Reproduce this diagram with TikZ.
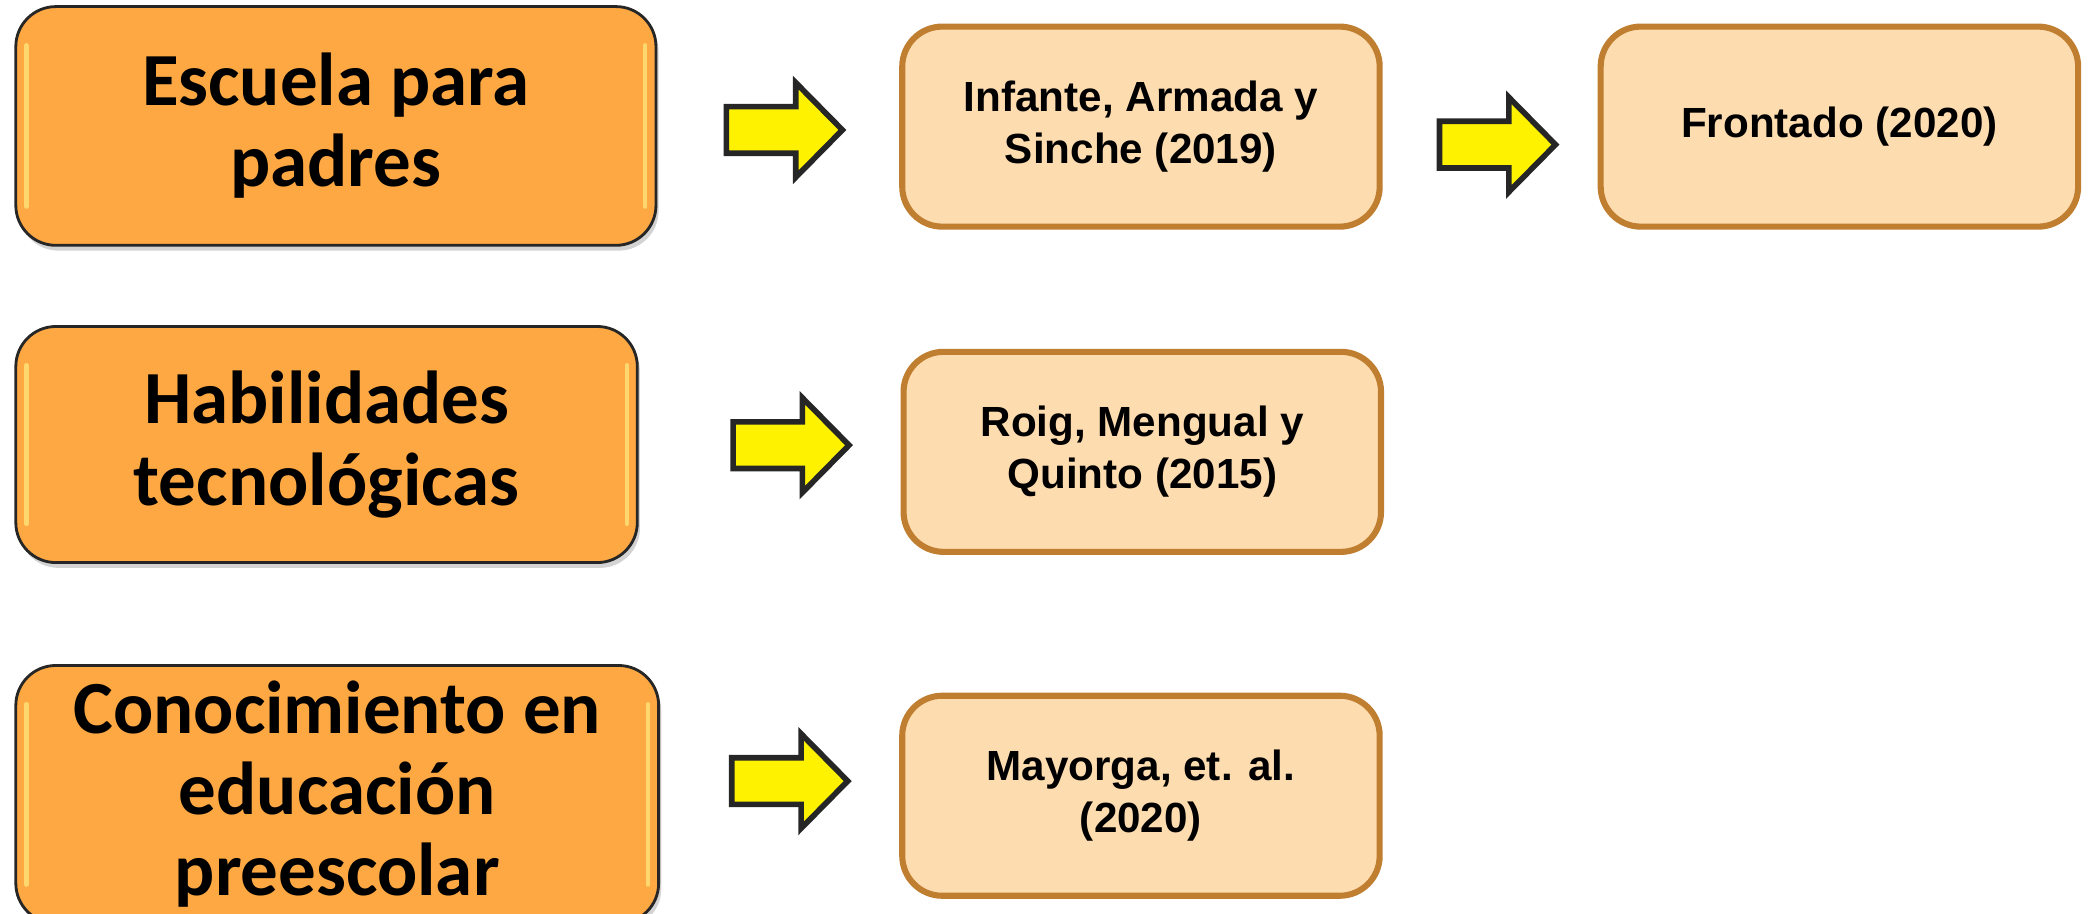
\documentclass[tikz,border=0pt]{standalone}
\usepackage{fontspec}
\setmainfont{Carlito}
\newfontfamily\arialfont{Liberation Sans}
\usetikzlibrary{shadows}

\definecolor{topicfill}{RGB}{253,168,66}
\definecolor{sourcefill}{RGB}{253,220,176}
\definecolor{sourceline}{RGB}{192,126,48}
\definecolor{arrowline}{RGB}{38,38,38}

\tikzset{
  topic/.style={draw=black!85, line width=0.6pt, fill=topicfill, rounded corners=0.3cm,
    align=center, font=\fontsize{16}{17.3}\selectfont\bfseries,
    drop shadow={shadow xshift=0.02cm, shadow yshift=-0.04cm, opacity=0.35}},
  source/.style={draw=sourceline, line width=1.3pt, fill=sourcefill, rounded corners=0.3cm,
    minimum width=3.58cm, minimum height=1.5cm, align=center,
    font=\arialfont\bfseries\fontsize{9}{11}\selectfont},
  gloss/.style={draw=yellow!45!white, line width=0.9pt, line cap=round, opacity=0.6},
  arrowfill/.style={draw=arrowline, line width=1.2pt, fill=yellow, line join=miter},
  yarrow/.pic={\draw[arrowfill] (0,-17.5) -- (52,-17.5) -- (52,-35.5) -- (87,0)
    -- (52,35.5) -- (52,17.5) -- (0,17.5) -- cycle;}
}

\begin{document}
\begin{tikzpicture}[x=0.01cm, y=-0.01cm]
    \useasboundingbox (0,0) rectangle (1568,685);

    % topics on the left
    \node[topic, minimum width=4.8cm, minimum height=1.79cm] (esc) at (252,94.5) {Escuela para\\padres};
    \node[topic, minimum width=4.66cm, minimum height=1.77cm] (hab) at (245,333.5) {Habilidades\\tecnológicas};
    \node[topic, minimum width=4.82cm, minimum height=1.74cm] (con) at (253,596) {Conocimiento en\\educación\\preescolar};
    \foreach \n in {esc,hab,con} {
      \draw[gloss] ([xshift=0.09cm,yshift=-0.3cm]\n.north west) -- ([xshift=0.09cm,yshift=0.3cm]\n.south west); % left shine
      \draw[gloss] ([xshift=-0.09cm,yshift=-0.3cm]\n.north east) -- ([xshift=-0.09cm,yshift=0.3cm]\n.south east); % right shine
    }

    % sources
    \node[source] (inf) at (856,95) {Infante, Armada y\\Sinche (2019)};
    \node[source] (fro) at (1380,95) {Frontado (2020)};
    \node[source] (roi) at (857,339) {Roig, Mengual y\\Quinto (2015)};
    \node[source] (may) at (856,597) {Mayorga, et. al.\\(2020)};

    % block arrows
    \pic at (545,97.5) {yarrow}; % to Infante
    \pic at (1080,108.5) {yarrow}; % to Frontado
    \pic at (550,334) {yarrow}; % to Roig
    \pic at (549,586) {yarrow}; % to Mayorga
\end{tikzpicture}
\end{document}
